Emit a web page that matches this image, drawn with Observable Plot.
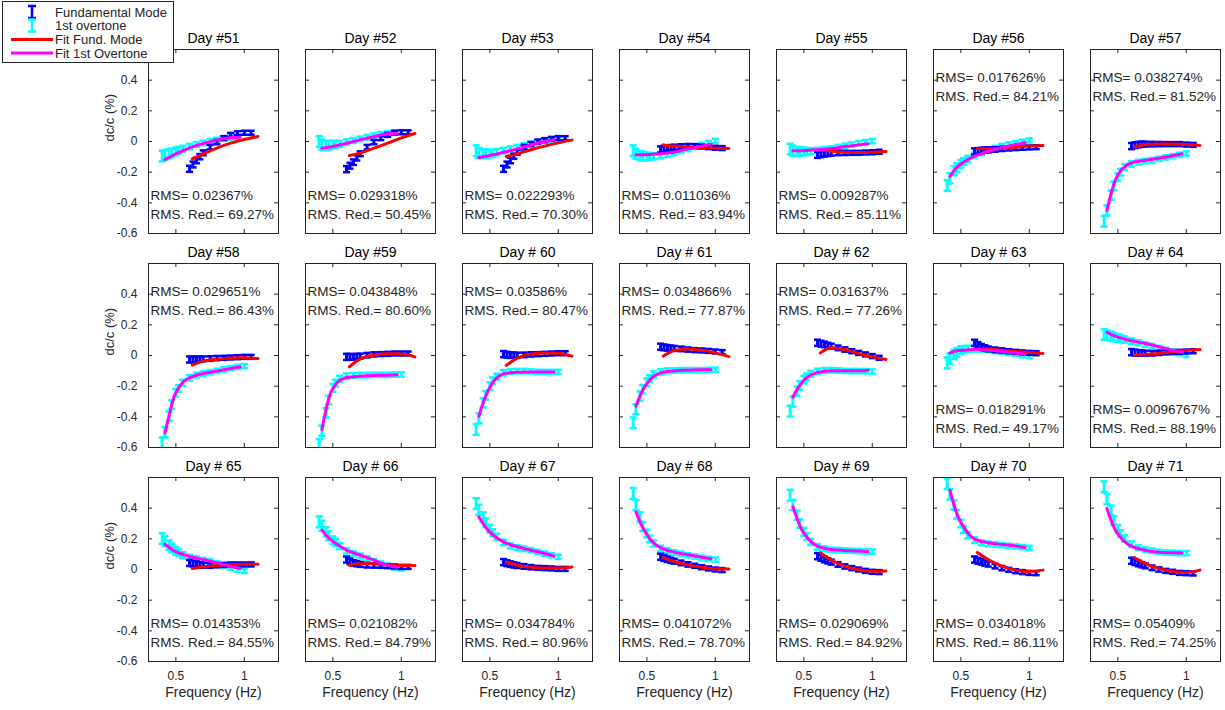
<!DOCTYPE html>
<html>
<head>
<meta charset="utf-8">
<script src="https://cdn.jsdelivr.net/npm/d3@7"></script>
<script src="https://cdn.jsdelivr.net/npm/@observablehq/plot@0.6"></script>
<style>
  html, body { margin: 0; padding: 0; background: #fff; }
  #wrap { position: relative; width: 1225px; height: 710px; background: #fff; overflow: hidden; font-family: "Liberation Sans", Arial, sans-serif; }
  #chart { position: absolute; left: 0; top: 0; }
  #legend { position: absolute; left: 2px; top: 1px; width: 170px; height: 60px; background: #fff; border: 1px solid #262626; z-index: 5; }
</style>
</head>
<body>
<div id="wrap"><div id="chart"></div><div id="legend"></div></div>
<script>
// ---------------- data ----------------
const titles = ["Day #51","Day #52","Day #53","Day #54","Day #55","Day #56","Day #57",
                "Day #58","Day #59","Day # 60","Day # 61","Day # 62","Day # 63","Day # 64",
                "Day # 65","Day # 66","Day # 67","Day # 68","Day # 69","Day # 70","Day # 71"];
const rmsValues = ["0.02367","0.029318","0.022293","0.011036","0.009287","0.017626","0.038274",
                   "0.029651","0.043848","0.03586","0.034866","0.031637","0.018291","0.0096767",
                   "0.014353","0.021082","0.034784","0.041072","0.029069","0.034018","0.05409"];
const rmsReduction = ["69.27","50.45","70.30","83.94","85.11","84.21","81.52",
                      "86.43","80.60","80.47","77.87","77.26","49.17","88.19",
                      "84.55","84.79","80.96","78.70","84.92","86.11","74.25"];
const topAnnotated = ["Day #56","Day #57","Day #58","Day #59","Day # 60","Day # 61","Day # 62"];

const fundFreq = [0.6,0.625,0.65,0.675,0.7,0.75,0.8,0.85,0.9,0.95,1.0,1.05];
const fundErr  = [0.02,0.019,0.018,0.017,0.016,0.015,0.014,0.013,0.013,0.013,0.013,0.013];
const overFreq = [0.4,0.42,0.45,0.47,0.5,0.52,0.55,0.6,0.65,0.7,0.75,0.8,0.85,0.9,0.95,1.0];
const overErr  = [0.035,0.033,0.03,0.028,0.025,0.022,0.02,0.018,0.016,0.015,0.015,0.014,0.014,0.014,0.014,0.014];
const fitFundFreq = [0.62,0.7,0.8,0.9,1.0,1.1];
const fitOverFreq = [0.42,0.45,0.48,0.52,0.56,0.6,0.7,0.8,0.9,0.97];

const fundMode = [
  [-0.178,-0.15,-0.124,-0.099,-0.074,-0.037,-0.004,0.022,0.043,0.054,0.057,0.057],
  [-0.18,-0.158,-0.135,-0.107,-0.08,-0.037,-0.004,0.022,0.043,0.057,0.06,0.06],
  [-0.178,-0.15,-0.124,-0.096,-0.07,-0.037,-0.017,0,0.009,0.017,0.022,0.022],
  [-0.052,-0.047,-0.043,-0.04,-0.037,-0.033,-0.03,-0.03,-0.033,-0.037,-0.041,-0.043],
  [-0.087,-0.083,-0.08,-0.078,-0.076,-0.074,-0.074,-0.074,-0.074,-0.072,-0.07,-0.067],
  [-0.065,-0.062,-0.059,-0.056,-0.054,-0.052,-0.048,-0.046,-0.043,-0.041,-0.039,-0.037],
  [-0.03,-0.024,-0.02,-0.018,-0.017,-0.017,-0.017,-0.017,-0.017,-0.017,-0.02,-0.022],
  [-0.026,-0.026,-0.026,-0.024,-0.022,-0.02,-0.017,-0.015,-0.013,-0.011,-0.009,-0.009],
  [-0.009,-0.009,-0.009,-0.006,-0.004,0.002,0.007,0.009,0.011,0.013,0.013,0.013],
  [0.009,0.005,0.002,0.002,0.002,0.004,0.007,0.009,0.011,0.013,0.015,0.015],
  [0.057,0.053,0.05,0.048,0.046,0.043,0.039,0.035,0.033,0.03,0.026,0.022],
  [0.083,0.077,0.072,0.066,0.061,0.05,0.039,0.028,0.017,0.007,-0.004,-0.015],
  [0.083,0.068,0.057,0.05,0.043,0.037,0.033,0.028,0.024,0.02,0.017,0.015],
  [0.022,0.019,0.017,0.016,0.015,0.015,0.017,0.02,0.022,0.024,0.026,0.028],
  [0.043,0.039,0.035,0.031,0.028,0.026,0.028,0.03,0.033,0.033,0.033,0.033],
  [0.065,0.053,0.043,0.038,0.033,0.028,0.026,0.024,0.022,0.02,0.017,0.017],
  [0.048,0.041,0.035,0.03,0.026,0.02,0.015,0.011,0.009,0.007,0.004,0.004],
  [0.083,0.075,0.067,0.06,0.054,0.043,0.033,0.024,0.015,0.007,0,-0.004],
  [0.087,0.076,0.065,0.056,0.048,0.033,0.02,0.009,0,-0.009,-0.015,-0.017],
  [0.065,0.057,0.05,0.042,0.035,0.022,0.009,-0.002,-0.011,-0.017,-0.022,-0.024],
  [0.057,0.048,0.039,0.031,0.024,0.011,0,-0.009,-0.015,-0.022,-0.024,-0.026]
];
const overtone = [
  [-0.095,-0.088,-0.08,-0.074,-0.065,-0.058,-0.048,-0.033,-0.02,-0.009,0.002,0.011,0.02,0.026,0.03,null],
  [0.0,-0.02,-0.026,-0.024,-0.02,-0.018,-0.015,-0.004,0.007,0.017,0.028,0.039,0.048,0.054,0.057,null],
  [-0.06,-0.075,-0.08,-0.08,-0.08,-0.076,-0.07,-0.059,-0.048,-0.037,-0.026,-0.015,-0.004,0.004,0.011,0.013],
  [-0.06,-0.08,-0.091,-0.095,-0.098,-0.097,-0.096,-0.091,-0.085,-0.074,-0.061,-0.048,-0.035,-0.022,-0.009,0.004],
  [-0.05,-0.06,-0.065,-0.065,-0.065,-0.064,-0.063,-0.059,-0.052,-0.046,-0.037,-0.028,-0.02,-0.011,-0.004,0.002],
  [-0.287,-0.24,-0.19,-0.17,-0.146,-0.13,-0.113,-0.091,-0.074,-0.059,-0.043,-0.03,-0.02,-0.011,-0.002,0.007],
  [-0.52,-0.45,-0.35,-0.29,-0.233,-0.2,-0.167,-0.146,-0.135,-0.128,-0.122,-0.113,-0.104,-0.096,-0.087,-0.078],
  [-0.57,-0.5,-0.396,-0.32,-0.243,-0.215,-0.178,-0.146,-0.128,-0.117,-0.109,-0.1,-0.091,-0.083,-0.074,-0.069],
  [-0.58,-0.49,-0.374,-0.29,-0.211,-0.18,-0.152,-0.135,-0.13,-0.128,-0.128,-0.126,-0.126,-0.126,-0.124,-0.124],
  [-0.483,-0.41,-0.309,-0.26,-0.2,-0.165,-0.139,-0.113,-0.104,-0.102,-0.102,-0.104,-0.107,-0.107,-0.107,-0.107],
  [-0.439,-0.35,-0.265,-0.22,-0.174,-0.15,-0.124,-0.107,-0.1,-0.098,-0.096,-0.096,-0.096,-0.096,-0.093,-0.093],
  [-0.363,-0.3,-0.233,-0.195,-0.157,-0.14,-0.12,-0.104,-0.098,-0.096,-0.098,-0.1,-0.102,-0.102,-0.102,-0.104],
  [-0.048,-0.02,0.007,0.02,0.035,0.04,0.043,0.043,0.041,0.037,0.03,0.024,0.017,0.011,0.002,-0.004],
  [0.137,0.133,0.126,0.12,0.115,0.11,0.104,0.093,0.083,0.072,0.061,0.048,0.037,0.026,0.015,0.004],
  [0.202,0.185,0.159,0.14,0.122,0.11,0.093,0.078,0.07,0.061,0.052,0.039,0.026,0.013,0,-0.009],
  [0.311,0.285,0.246,0.22,0.191,0.175,0.152,0.122,0.104,0.089,0.072,0.054,0.039,0.024,0.013,0.007],
  [0.43,0.39,0.343,0.305,0.267,0.24,0.213,0.176,0.154,0.143,0.135,0.126,0.115,0.104,0.093,0.083],
  [0.496,0.42,0.343,0.28,0.235,0.2,0.17,0.137,0.122,0.111,0.102,0.093,0.085,0.076,0.07,0.065],
  [0.485,0.42,0.354,0.3,0.246,0.215,0.18,0.148,0.135,0.128,0.126,0.124,0.122,0.12,0.117,0.117],
  [0.56,0.49,0.42,0.36,0.3,0.26,0.224,0.191,0.174,0.167,0.163,0.159,0.154,0.15,0.146,0.141],
  [0.54,0.46,0.387,0.32,0.267,0.235,0.202,0.165,0.143,0.13,0.122,0.115,0.111,0.109,0.107,0.107]
];
const fitFund = [
  [-0.113,-0.08,-0.043,-0.011,0.013,0.033],
  [-0.091,-0.076,-0.043,-0.011,0.024,0.052],
  [-0.098,-0.08,-0.054,-0.03,-0.009,0.009],
  [-0.022,-0.03,-0.037,-0.041,-0.043,-0.046],
  [-0.054,-0.063,-0.07,-0.072,-0.07,-0.065],
  [-0.048,-0.048,-0.043,-0.037,-0.03,-0.026],
  [-0.037,-0.02,-0.017,-0.017,-0.02,-0.026],
  [-0.063,-0.037,-0.024,-0.017,-0.015,-0.02],
  [-0.074,-0.022,0.002,0.011,0.009,-0.009],
  [-0.065,-0.017,0.009,0.017,0.015,-0.004],
  [-0.004,0.033,0.043,0.035,0.017,-0.007],
  [0.017,0.05,0.039,0.013,-0.009,-0.026],
  [0.043,0.043,0.035,0.026,0.02,0.013],
  [0.002,0.007,0.015,0.024,0.033,0.039],
  [0.007,0.017,0.026,0.033,0.035,0.035],
  [0.028,0.037,0.037,0.03,0.026,0.026],
  [0.05,0.028,0.015,0.009,0.009,0.017],
  [0.078,0.052,0.03,0.015,0.004,0.004],
  [0.109,0.061,0.022,-0.002,-0.011,-0.009],
  [0.111,0.065,0.022,-0.004,-0.013,-0.004],
  [0.078,0.039,0.007,-0.013,-0.02,-0.004]
];
const fitOver = [
  [-0.117,-0.105,-0.089,-0.073,-0.057,-0.041,-0.013,0.009,0.024,0.028],
  [-0.043,-0.04,-0.036,-0.028,-0.02,-0.011,0.011,0.033,0.05,0.052],
  [-0.104,-0.1,-0.094,-0.087,-0.079,-0.07,-0.048,-0.022,0,0.011],
  [-0.087,-0.086,-0.086,-0.084,-0.082,-0.08,-0.07,-0.048,-0.03,-0.017],
  [-0.061,-0.06,-0.06,-0.058,-0.056,-0.054,-0.046,-0.033,-0.022,-0.015],
  [-0.228,-0.19,-0.16,-0.135,-0.113,-0.096,-0.065,-0.039,-0.02,-0.007],
  [-0.45,-0.341,-0.254,-0.19,-0.157,-0.139,-0.124,-0.109,-0.093,-0.08],
  [-0.504,-0.396,-0.287,-0.211,-0.167,-0.146,-0.117,-0.102,-0.085,-0.074],
  [-0.483,-0.352,-0.254,-0.19,-0.157,-0.143,-0.135,-0.13,-0.128,-0.126],
  [-0.396,-0.309,-0.243,-0.178,-0.139,-0.12,-0.109,-0.107,-0.107,-0.107],
  [-0.33,-0.265,-0.211,-0.161,-0.13,-0.113,-0.1,-0.096,-0.093,-0.093],
  [-0.272,-0.222,-0.183,-0.146,-0.124,-0.111,-0.1,-0.1,-0.1,-0.096],
  [0.017,0.026,0.032,0.035,0.037,0.039,0.035,0.026,0.017,0.009],
  [0.152,0.137,0.126,0.115,0.104,0.096,0.078,0.057,0.035,0.022],
  [0.165,0.143,0.126,0.109,0.096,0.085,0.065,0.043,0.02,0.007],
  [0.257,0.224,0.198,0.17,0.148,0.126,0.093,0.061,0.028,0.015],
  [0.343,0.3,0.263,0.228,0.2,0.18,0.148,0.126,0.104,0.087],
  [0.376,0.311,0.257,0.202,0.165,0.143,0.113,0.096,0.08,0.07],
  [0.409,0.333,0.267,0.213,0.176,0.152,0.13,0.124,0.12,0.115],
  [0.517,0.42,0.343,0.278,0.228,0.2,0.174,0.163,0.154,0.143],
  [0.398,0.322,0.261,0.209,0.174,0.152,0.126,0.113,0.109,0.107]
];

const yTicks = [-0.6,-0.4,-0.2,0,0.2,0.4];
const xTicks = [0.5,1];
const legendLabels = ["Fundamental Mode","1st overtone","Fit Fund. Mode","Fit 1st Overtone"];
const legendKinds  = ["errorbar","errorbar","line","line"];
const colFund = "#0000ff", colOver = "#00ffff", colFitFund = "#ff0000", colFitOver = "#ff00ff";
const legendColors = [colFund, colOver, colFitFund, colFitOver];

// ---------------- build tables ----------------
const nCols = 7;
const fundRows = [], overRows = [], fitFundRows = [], fitOverRows = [], panelRows = [];
titles.forEach((t, i) => {
  const col = i % nCols, row = Math.floor(i / nCols);
  panelRows.push({col, row, title: t, note: `RMS= ${rmsValues[i]}%\nRMS. Red.= ${rmsReduction[i]}%`, top: topAnnotated.includes(t)});
  fundFreq.forEach((f, j) => { const v = fundMode[i][j]; if (v != null) fundRows.push({col, row, f, v, e: fundErr[j]}); });
  overFreq.forEach((f, j) => { const v = overtone[i][j]; if (v != null) overRows.push({col, row, f, v, e: overErr[j]}); });
  fitFundFreq.forEach((f, j) => fitFundRows.push({col, row, t, f, v: fitFund[i][j]}));
  fitOverFreq.forEach((f, j) => fitOverRows.push({col, row, t, f, v: fitOver[i][j]}));
});
const freqLabelRows = d3.range(nCols).map(c => ({col: c, row: 2, label: "Frequency (Hz)"}));
const yLabelRows = [0,1,2].map(r => ({col: 0, row: r, label: "dc/c (%)"}));

const capHalf = 0.026;
function errorBars(rows, color) {
  return [
    Plot.ruleX(rows, {fx: "col", fy: "row", x: "f", y1: d => d.v - d.e, y2: d => d.v + d.e, stroke: color, strokeWidth: 3, clip: true}),
    Plot.link(rows, {fx: "col", fy: "row", x1: d => d.f - capHalf, x2: d => d.f + capHalf, y1: d => d.v + d.e, y2: d => d.v + d.e, stroke: color, strokeWidth: 2.5, clip: true}),
    Plot.link(rows, {fx: "col", fy: "row", x1: d => d.f - capHalf, x2: d => d.f + capHalf, y1: d => d.v - d.e, y2: d => d.v - d.e, stroke: color, strokeWidth: 2.5, clip: true})
  ];
}

const frameW = 130, frameH = 184, tickLen = 4, axisColor = "#262626";

const chart = Plot.plot({
  width: 1225,
  height: 710,
  marginLeft: 146,
  marginRight: 4,
  marginTop: 48.5,
  marginBottom: 48.5,
  style: {fontFamily: "'Liberation Sans', Arial, sans-serif", fontSize: "12px", color: axisColor, background: "transparent", overflow: "visible"},
  x: {domain: [0.3, 1.25]},
  y: {domain: [-0.6, 0.6]},
  fx: {domain: d3.range(nCols), paddingInner: 27.5 / 157.5, paddingOuter: 0, axis: null},
  fy: {domain: [0, 1, 2], paddingInner: 30.5 / 214.5, paddingOuter: 0, axis: null},
  marks: [
    ...errorBars(overRows, colOver),
    ...errorBars(fundRows, colFund),
    Plot.line(fitFundRows, {fx: "col", fy: "row", x: "f", y: "v", z: "t", stroke: colFitFund, strokeWidth: 3, curve: "monotone-x", clip: true}),
    Plot.line(fitOverRows, {fx: "col", fy: "row", x: "f", y: "v", z: "t", stroke: colFitOver, strokeWidth: 3, curve: "monotone-x", clip: true}),
    Plot.frame({stroke: axisColor, strokeWidth: 1}),
    Plot.tickY(yTicks, {y: d => d, insetRight: frameW - tickLen, stroke: axisColor}),
    Plot.tickY(yTicks, {y: d => d, insetLeft: frameW - tickLen, stroke: axisColor}),
    Plot.tickX(xTicks, {x: d => d, insetTop: frameH - tickLen, stroke: axisColor}),
    Plot.tickX(xTicks, {x: d => d, insetBottom: frameH - tickLen, stroke: axisColor}),
    Plot.axisY({ticks: yTicks, tickSize: 0, tickPadding: 11, tickFormat: d => String(d), label: null, fontSize: 12}),
    Plot.axisX({ticks: xTicks, tickSize: 0, tickPadding: 10, tickFormat: d => String(d), label: null, fontSize: 12}),
    Plot.text(panelRows, {fx: "col", fy: "row", text: "title", frameAnchor: "top", dy: -10.5, lineAnchor: "middle", fontSize: 14, fill: "#000"}),
    Plot.text(panelRows.filter(d => !d.top), {fx: "col", fy: "row", text: "note", frameAnchor: "bottom-left", textAnchor: "start", lineAnchor: "middle", dx: 2, dy: -30, fontSize: 13.5, lineHeight: 1.44, fill: axisColor}),
    Plot.text(panelRows.filter(d => d.top), {fx: "col", fy: "row", text: "note", frameAnchor: "top-left", textAnchor: "start", lineAnchor: "middle", dx: 2, dy: 35.5, fontSize: 13.5, lineHeight: 1.44, fill: axisColor}),
    Plot.text(freqLabelRows, {fx: "col", fy: "row", text: "label", frameAnchor: "bottom", dy: 31.5, lineAnchor: "middle", fontSize: 14, fill: axisColor}),
    Plot.text(yLabelRows, {fx: "col", fy: "row", text: "label", frameAnchor: "left", rotate: -90, dx: -39, lineAnchor: "middle", fontSize: 13, fill: axisColor})
  ]
});
document.getElementById("chart").appendChild(chart);

// ---------------- legend ----------------
const ns = "http://www.w3.org/2000/svg";
const lsvg = document.createElementNS(ns, "svg");
lsvg.setAttribute("width", 170); lsvg.setAttribute("height", 60);
lsvg.style.display = "block";
const rowY = [10, 23.5, 37.5, 51];
legendLabels.forEach((lab, i) => {
  const y = rowY[i], c = legendColors[i];
  if (legendKinds[i] === "errorbar") {
    const p = document.createElementNS(ns, "path");
    p.setAttribute("d", `M${29},${y-6}V${y+6}M${25},${y-6}H${33}M${25},${y+6}H${33}`);
    p.setAttribute("stroke", c); p.setAttribute("stroke-width", 2.5); p.setAttribute("fill", "none");
    lsvg.appendChild(p);
  } else {
    const l = document.createElementNS(ns, "line");
    l.setAttribute("x1", 8); l.setAttribute("x2", 50); l.setAttribute("y1", y); l.setAttribute("y2", y);
    l.setAttribute("stroke", c); l.setAttribute("stroke-width", 3);
    lsvg.appendChild(l);
  }
  const t = document.createElementNS(ns, "text");
  t.setAttribute("x", 52); t.setAttribute("y", y); t.setAttribute("dy", "0.35em");
  t.setAttribute("font-size", 13); t.setAttribute("fill", "#262626");
  t.setAttribute("font-family", "'Liberation Sans', Arial, sans-serif");
  t.textContent = lab;
  lsvg.appendChild(t);
});
document.getElementById("legend").appendChild(lsvg);
</script>
</body>
</html>
